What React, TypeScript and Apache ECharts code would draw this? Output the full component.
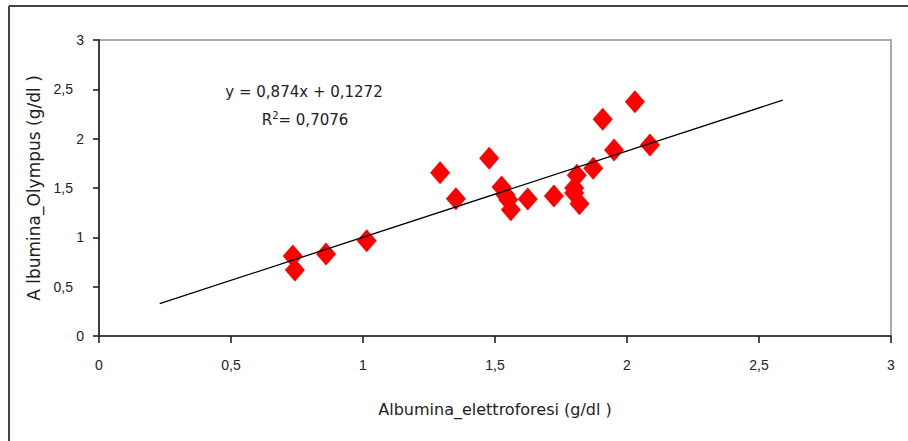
import React, { useEffect, useRef } from "react";
import * as echarts from "echarts";

const xValues = [0.734, 0.742, 0.86, 1.014, 1.292, 1.352, 1.478, 1.525, 1.54, 1.55, 1.56, 1.624, 1.723, 1.81, 1.8, 1.8, 1.82, 1.872, 1.951, 1.908, 2.03, 2.087];
const yValues = [0.811, 0.669, 0.831, 0.966, 1.655, 1.392, 1.801, 1.51, 1.43, 1.38, 1.28, 1.389, 1.419, 1.63, 1.5, 1.45, 1.34, 1.7, 1.885, 2.196, 2.375, 1.936];
const trendX = [0.23, 2.59];
const trendY = [0.328, 2.391];
const equationText = "y = 0,874x + 0,1272";
const r2Text = "0,7076";
const xTitle = "Albumina_elettroforesi (g/dl )";
const yTitle = "A lbumina_Olympus (g/dl )";

const fmt = (v: number) => String(v).replace(".", ",");

export default function App() {
  const ref = useRef<HTMLDivElement>(null);
  useEffect(() => {
    if (!ref.current) return;
    const chart = echarts.init(ref.current, undefined, { renderer: "svg" });
    const tickColor = "#222";
    const yLabelFmt = (v: number) =>
      Number.isInteger(v) ? `{i|${fmt(v)}}` : `{d|${fmt(v)}}`;
    chart.setOption({
      animation: false,
      backgroundColor: "#fff",
      grid: {
        left: 99,
        right: 17,
        top: 40,
        bottom: 105,
        show: true,
        borderColor: "#aaaaaa",
        borderWidth: 2,
        backgroundColor: "transparent",
      },
      xAxis: {
        type: "value",
        min: 0,
        max: 3,
        interval: 0.5,
        name: xTitle,
        nameLocation: "middle",
        nameGap: 65,
        nameTextStyle: { fontFamily: "DejaVu Sans", fontSize: 16, color: "#222" },
        axisLine: { show: true, onZero: false, lineStyle: { color: tickColor, width: 1.6 } },
        axisTick: { show: true, length: 7, lineStyle: { color: tickColor, width: 1.6 } },
        axisLabel: {
          margin: 22,
          fontFamily: "Liberation Sans",
          fontSize: 14,
          color: "#222",
          formatter: (v: number) => fmt(v),
        },
        splitLine: { show: false },
      },
      yAxis: {
        type: "value",
        min: 0,
        max: 3,
        interval: 0.5,
        name: yTitle,
        nameLocation: "middle",
        nameGap: 52,
        nameRotate: 90,
        nameTextStyle: { fontFamily: "DejaVu Sans", fontSize: 17, color: "#222" },
        axisLine: { show: true, onZero: false, lineStyle: { color: tickColor, width: 1.6 } },
        axisTick: { show: true, length: 6, lineStyle: { color: tickColor, width: 1.6 } },
        axisLabel: {
          margin: 15,
          fontFamily: "Liberation Sans",
          fontSize: 14,
          color: "#222",
          formatter: yLabelFmt,
          rich: {
            i: { fontFamily: "Liberation Sans", fontSize: 14, color: "#222" },
            d: { fontFamily: "Liberation Sans", fontSize: 14, color: "#222", padding: [0, 11, 0, 0] },
          },
        },
        splitLine: { show: false },
      },
      series: [
        {
          type: "line",
          data: trendX.map((x, i) => [x, trendY[i]]),
          showSymbol: false,
          symbol: "none",
          lineStyle: { color: "#000", width: 1.3 },
          z: 3,
        },
        {
          type: "scatter",
          data: xValues.map((x, i) => [x, yValues[i]]),
          symbol: "diamond",
          symbolSize: [20, 23],
          itemStyle: { color: "#ff0000", opacity: 1 },
          z: 2,
        },
      ],
      graphic: [
        {
          type: "line",
          shape: { x1: 9, y1: 6, x2: 908, y2: 6 },
          style: { stroke: "#444", lineWidth: 2 },
        },
        {
          type: "line",
          shape: { x1: 9, y1: 6, x2: 9, y2: 441 },
          style: { stroke: "#444", lineWidth: 2 },
        },
        {
          type: "text",
          x: 304,
          y: 92,
          style: {
            text: equationText,
            fontFamily: "DejaVu Sans",
            fontSize: 15,
            fontWeight: "normal",
            fill: "#222",
            align: "center",
            verticalAlign: "middle",
          },
        },
        {
          type: "text",
          x: 305,
          y: 120,
          style: {
            text: `{a|R}{s|2}{a|= ${r2Text}}`,
            fill: "#222",
            fontWeight: "normal",
            rich: {
              a: { fontFamily: "DejaVu Sans", fontSize: 15, fontWeight: "normal", color: "#222" },
              s: { fontFamily: "DejaVu Sans", fontSize: 10, fontWeight: "normal", color: "#222", verticalAlign: "top", padding: [0, 0, 10, 0] },
            },
            align: "center",
            verticalAlign: "middle",
          },
        },
      ],
    });
    return () => chart.dispose();
  }, []);
  return (
    <div
      ref={ref}
      style={{ position: "fixed", left: 0, top: 0, width: 908, height: 441 }}
    />
  );
}
